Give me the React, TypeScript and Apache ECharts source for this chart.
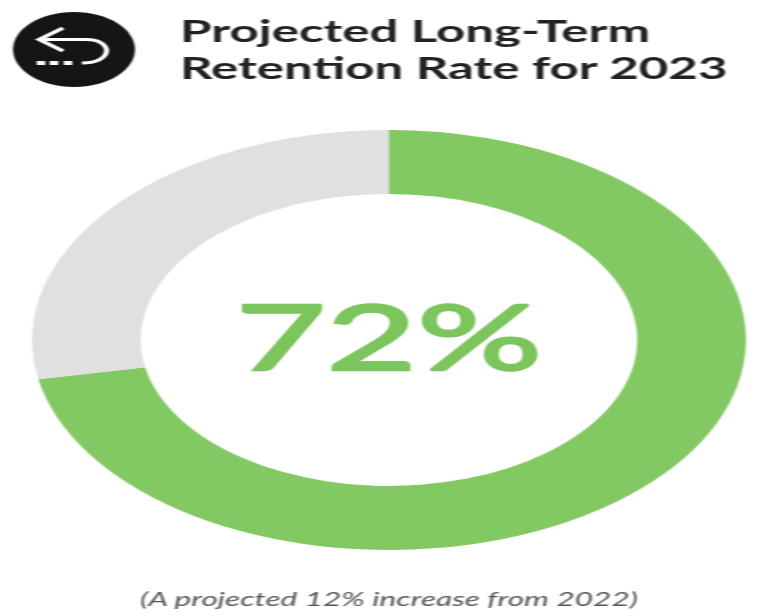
import React, { useEffect, useRef } from "react";
import * as echarts from "echarts";

const titleLines = ["Projected Long-Term", "Retention Rate for 2023"];
const subtitle = "(A projected 12% increase from 2022)";
const sliceNames = ["Retained", "Not retained"];
const sliceValues = [72, 28];
const sliceColors = ["#82c963", "#e0e0e0"];

const STRETCH = 1.7;
const W = 783 / STRETCH;
const sx = (x: number) => x / STRETCH;

const white = { stroke: "#fff", lineWidth: 3, fill: "none" as const };

export default function App() {
  const ref = useRef<HTMLDivElement>(null);
  useEffect(() => {
    document.body.style.margin = "0";
    document.body.style.overflow = "hidden";
    const chart = echarts.init(ref.current!, undefined, { renderer: "svg" });
    chart.setOption({
      animation: false,
      backgroundColor: "#fff",
      title: [
        {
          text: titleLines.join("\n"),
          left: sx(180) - 5,
          top: 7,
          textStyle: { fontFamily: "Lato", fontWeight: 700, fontSize: 30, lineHeight: 37, color: "#222" },
        },
        {
          text: subtitle,
          left: sx(140) - 5,
          top: 584,
          textStyle: { fontFamily: "Lato", fontStyle: "italic", fontWeight: 400, fontSize: 18.6, color: "#555" },
        },
      ],
      series: [
        {
          type: "pie",
          center: [sx(389), 340],
          radius: [146, 210],
          startAngle: 90,
          clockwise: true,
          silent: true,
          labelLine: { show: false },
          data: sliceNames.map((name, i) => ({
            name,
            value: sliceValues[i],
            itemStyle: { color: sliceColors[i] },
            label:
              i === 0
                ? {
                    show: true,
                    position: "center",
                    offset: [0, -6],
                    formatter: "{c}%",
                    fontFamily: "Lato",
                    fontSize: 92,
                    fontWeight: 400,
                    color: "#7cc45c",
                    textBorderColor: "#7cc45c",
                    textBorderWidth: 2.4,
                  }
                : { show: false },
          })),
        },
      ],
      graphic: [
        { type: "ellipse", shape: { cx: sx(74), cy: 49.5, rx: sx(61), ry: 37.5 }, style: { fill: "#151515" } },
        { type: "polyline", shape: { points: [[sx(63), 28], [sx(39), 39.5], [sx(63), 51]] }, style: white },
        { type: "line", shape: { x1: sx(39), y1: 39.5, x2: sx(86), y2: 39.5 }, style: white },
        {
          type: "bezierCurve",
          shape: { x1: sx(86), y1: 39.5, cpx1: sx(114), cpy1: 39.5, cpx2: sx(114), cpy2: 63, x2: sx(82), y2: 63 },
          style: white,
        },
        ...[41, 54, 68].map((x) => ({
          type: "rect",
          shape: { x: sx(x) - 2.5, y: 61, width: 5, height: 4 },
          style: { fill: "#fff" },
        })),
      ],
    });
    return () => chart.dispose();
  }, []);
  return (
    <div style={{ width: 783, height: 616, overflow: "hidden", background: "#fff" }}>
      <div
        ref={ref}
        style={{ width: W, height: 616, transform: `scaleX(${STRETCH})`, transformOrigin: "0 0", filter: "blur(0.6px)" }}
      />
    </div>
  );
}
